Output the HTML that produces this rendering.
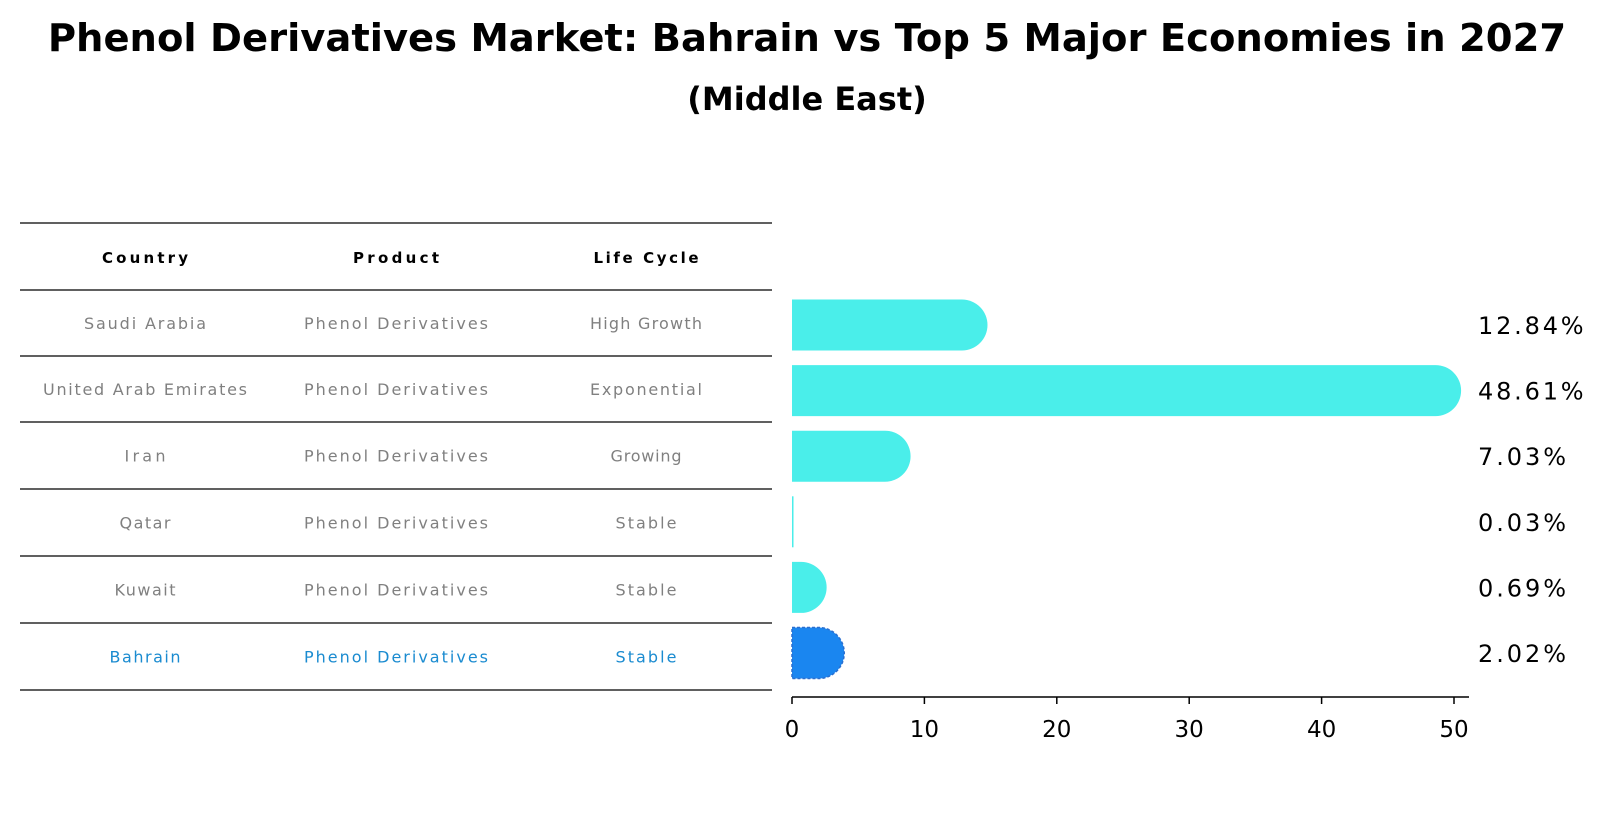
<!DOCTYPE html>
<html><head><meta charset="utf-8"><style>
body{margin:0;background:#fff;}
svg{display:block;font-family:"DejaVu Sans","Liberation Sans",sans-serif;}
</style></head><body>
<svg id="chart" width="1604" height="823" viewBox="0 0 1604 823">
<text x="807" y="51" text-anchor="middle" font-size="38.5" font-weight="bold">Phenol Derivatives Market: Bahrain vs Top 5 Major Economies in 2027</text>
<text x="807" y="110" text-anchor="middle" font-size="32" font-weight="bold">(Middle East)</text>
<g id="table"></g>
<g id="bars"></g>
</svg>
<script>
const countries=["Saudi Arabia","United Arab Emirates","Iran","Qatar","Kuwait","Bahrain"];
const products=["Phenol Derivatives","Phenol Derivatives","Phenol Derivatives","Phenol Derivatives","Phenol Derivatives","Phenol Derivatives"];
const lifeCycles=["High Growth","Exponential","Growing","Stable","Stable","Stable"];
const values=[12.84,48.61,7.03,0.03,0.69,2.02];
const labels=["12.84%","48.61%","7.03%","0.03%","0.69%","2.02%"];
const ticks=[0,10,20,30,40,50];
const NS="http://www.w3.org/2000/svg";
function mk(tag,attrs,parent,txt){const e=document.createElementNS(NS,tag);for(const k in attrs)e.setAttribute(k,attrs[k]);if(txt!==undefined)e.textContent=txt;parent.appendChild(e);return e;}
const tbl=document.getElementById('table');
const colX=[145,396,646];
const lineY=[223,290,356,422,489,556,623,690];
lineY.forEach((y,i)=>{const l=mk('line',{x1:20,x2:772,y1:y,y2:y,stroke:'#000','stroke-width':1.2},tbl);

});
["Country","Product","Life Cycle"].forEach((h,j)=>{const t=mk('text',{x:colX[j],y:263,'text-anchor':'middle','font-size':15,'font-weight':'bold',textLength:[86,86,105][j]},tbl,h);

});
countries.forEach((c,i)=>{const y=(lineY[i+1]+lineY[i+2])/2+6;const col=i===countries.length-1?'#1a8bd0':'#808080';
[c,products[i],lifeCycles[i]].forEach((v,j)=>{const t=mk('text',{x:colX[j],y:y,'text-anchor':'middle','font-size':16,fill:col,textLength:Math.round(v.length*10.2)},tbl,v);

});});
const g=document.getElementById('bars');
const x0=792,pxPer=13.24,axisY=697;
const xs=v=>x0+v*pxPer;
const yc=i=>325+i*65.6;
const h=51,r=25.5;
values.forEach((v,i)=>{const col=i===values.length-1?'#1a86f0':'#4aeeea';const xe=xs(v);const cy=yc(i);
let d;
if(v<0.1){d=`M${x0} ${cy-h/2}h1.5v${h}h-1.5z`;}
else d=`M${x0} ${cy-h/2}H${xe}A${r} ${r} 0 0 1 ${xe} ${cy+h/2}H${x0}Z`;
const p=mk('path',{d:d,fill:col},g);
if(i===values.length-1){p.setAttribute('stroke','#2a6fd0');p.setAttribute('stroke-dasharray','3 2');p.setAttribute('stroke-width','1.5');}


const t=mk('text',{x:1478,y:cy+9,'font-size':24,textLength:labels[i].length*17.6},g,labels[i]);

});
const ax=mk('line',{x1:x0,x2:1469,y1:axisY,y2:axisY,stroke:'#000','stroke-width':1.5},g);


ticks.forEach(t=>{const x=xs(t);const l=mk('line',{x1:x,x2:x,y1:axisY,y2:axisY+7,stroke:'#000','stroke-width':1.5},g);


const tx=mk('text',{x:x,y:737,'text-anchor':'middle','font-size':23},g,String(t));

});
</script>
</body></html>
